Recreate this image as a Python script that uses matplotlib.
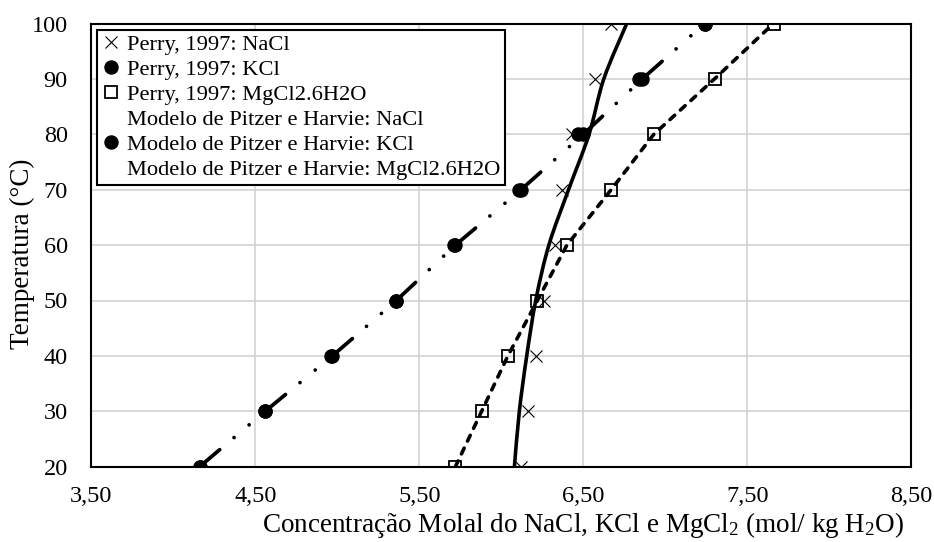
import matplotlib
matplotlib.use('Agg')
import matplotlib.pyplot as plt
from matplotlib.lines import Line2D
from matplotlib.path import Path
from matplotlib.patches import PathPatch

plt.rcParams['font.family'] = ['Liberation Serif', 'DejaVu Serif']
plt.rcParams['mathtext.fontset'] = 'custom'
plt.rcParams['mathtext.rm'] = 'Liberation Serif'
plt.rcParams['mathtext.it'] = 'Liberation Serif:italic'
plt.rcParams['lines.scale_dashes'] = False

# ---------------- data ----------------
temperatures = [20, 30, 40, 50, 60, 70, 80, 90, 100]
perry_nacl = [6.12, 6.16, 6.21, 6.26, 6.33, 6.37, 6.43, 6.57, 6.67]
perry_kcl = [4.16, 4.56, 4.96, 5.36, 5.71, 6.11, 6.47, 6.84, 7.24]
perry_mgcl2 = [5.72, 5.88, 6.04, 6.22, 6.40, 6.67, 6.93, 7.30, 7.66]
pitzer_nacl = [6.08, 6.11, 6.155, 6.21, 6.29, 6.41, 6.535, 6.625, 6.765]
pitzer_kcl = [4.16, 4.56, 4.97, 5.36, 5.72, 6.12, 6.50, 6.86, 7.24]
pitzer_mgcl2 = [5.72, 5.88, 6.04, 6.22, 6.40, 6.67, 6.93, 7.30, 7.66]

labels = ['Perry, 1997: NaCl', 'Perry, 1997: KCl', 'Perry, 1997: MgCl2.6H2O',
          'Modelo de Pitzer e Harvie: NaCl', 'Modelo de Pitzer e Harvie: KCl',
          'Modelo de Pitzer e Harvie: MgCl2.6H2O']

x_ticks = [3.5, 4.5, 5.5, 6.5, 7.5, 8.5]
x_tick_labels = ['3,50', '4,50', '5,50', '6,50', '7,50', '8,50']
y_ticks = [20, 30, 40, 50, 60, 70, 80, 90, 100]

x_label = 'Concentração Molal do NaCl, KCl e MgCl$_2$ (mol/ kg H$_2$O)'
y_label = 'Temperatura (°C)'

# ---------------- figure ----------------
W, H = 934, 542
fig = plt.figure(figsize=(W / 100, H / 100), dpi=100)
ax = fig.add_axes([91.3 / W, 1 - 466.7 / H, 820 / W, 443.2 / H])
ax.set_xlim(3.5, 8.5)
ax.set_ylim(20, 100)

ax.set_xticks(x_ticks)
ax.set_xticklabels(x_tick_labels)
ax.set_yticks(y_ticks)
ax.tick_params(axis='both', length=0, labelsize=17.5)
ax.tick_params(axis='x', pad=14)
ax.tick_params(axis='y', pad=17)
ax.grid(True, color='#d0d0d0', lw=1.1)
ax.set_axisbelow(True)
for s in ax.spines.values():
    s.set_linewidth(1.5)
    s.set_color('black')

ax.set_xlabel(x_label, fontsize=19.5, va='center')
ax.xaxis.set_label_coords(0.60, -0.131)
ax.set_ylabel(y_label, fontsize=19.5, va='center')
ax.yaxis.set_label_coords(-0.0845, 0.48)

ms_x, ms_o, ms_s = 8.6, 9.4, 8.4

# Perry markers
ax.plot(perry_nacl, temperatures, ls='none', marker='x', color='black',
        ms=ms_x, mew=0.8, zorder=3)
ax.plot(perry_kcl, temperatures, ls='none', marker='o', color='black',
        ms=ms_o, zorder=3)
ax.plot(perry_mgcl2, temperatures, ls='none', marker='s', mfc='none',
        mec='black', ms=ms_s, mew=1.3, zorder=3)

# Pitzer NaCl: smoothed solid line (Catmull-Rom -> cubic Bezier)
pts = list(zip(pitzer_nacl, temperatures))
verts = [pts[0]]
codes = [Path.MOVETO]
n = len(pts)
for i in range(n - 1):
    p0 = pts[i - 1] if i > 0 else pts[i]
    p1 = pts[i]
    p2 = pts[i + 1]
    p3 = pts[i + 2] if i + 2 < n else pts[i + 1]
    c1 = (p1[0] + (p2[0] - p0[0]) / 6, p1[1] + (p2[1] - p0[1]) / 6)
    c2 = (p2[0] - (p3[0] - p1[0]) / 6, p2[1] - (p3[1] - p1[1]) / 6)
    verts += [c1, c2, p2]
    codes += [Path.CURVE4] * 3
ax.add_patch(PathPatch(Path(verts, codes), fill=False, lw=2.6,
                       edgecolor='black', capstyle='butt', zorder=4))

# Pitzer KCl: long dash - dot - dot, pattern restarting at each point
for i in range(len(temperatures) - 1):
    ax.plot(pitzer_kcl[i:i + 2], temperatures[i:i + 2], color='black', lw=2.7,
            dashes=(19, 13.5, 0.01, 14.2, 0.01, 40), dash_capstyle='round',
            zorder=4)
ax.plot(pitzer_kcl, temperatures, ls='none', marker='o', color='black',
        ms=ms_o, zorder=5)

# Pitzer MgCl2: dashed line
ax.plot(pitzer_mgcl2, temperatures, color='black', lw=2.6,
        dashes=(4.6, 5.6), dash_capstyle='round', zorder=4)

# legend (markers only)
handles = [
    Line2D([], [], ls='none', marker='x', color='black', ms=ms_x, mew=0.8),
    Line2D([], [], ls='none', marker='o', color='black', ms=ms_o),
    Line2D([], [], ls='none', marker='s', mfc='none', mec='black', ms=ms_s, mew=1.3),
    Line2D([], [], ls='none'),
    Line2D([], [], ls='none', marker='o', color='black', ms=ms_o),
    Line2D([], [], ls='none'),
]
leg = ax.legend(handles, labels, loc='upper left', bbox_to_anchor=(0.007, 0.9853),
                borderaxespad=0, fontsize=16.2, frameon=True, fancybox=False,
                framealpha=1, edgecolor='black', handlelength=0.8,
                handletextpad=0.35, borderpad=0.2, labelspacing=0.19)
leg.get_frame().set_linewidth(1.5)
leg.set_zorder(10)

fig.savefig('out.png', dpi=100)
